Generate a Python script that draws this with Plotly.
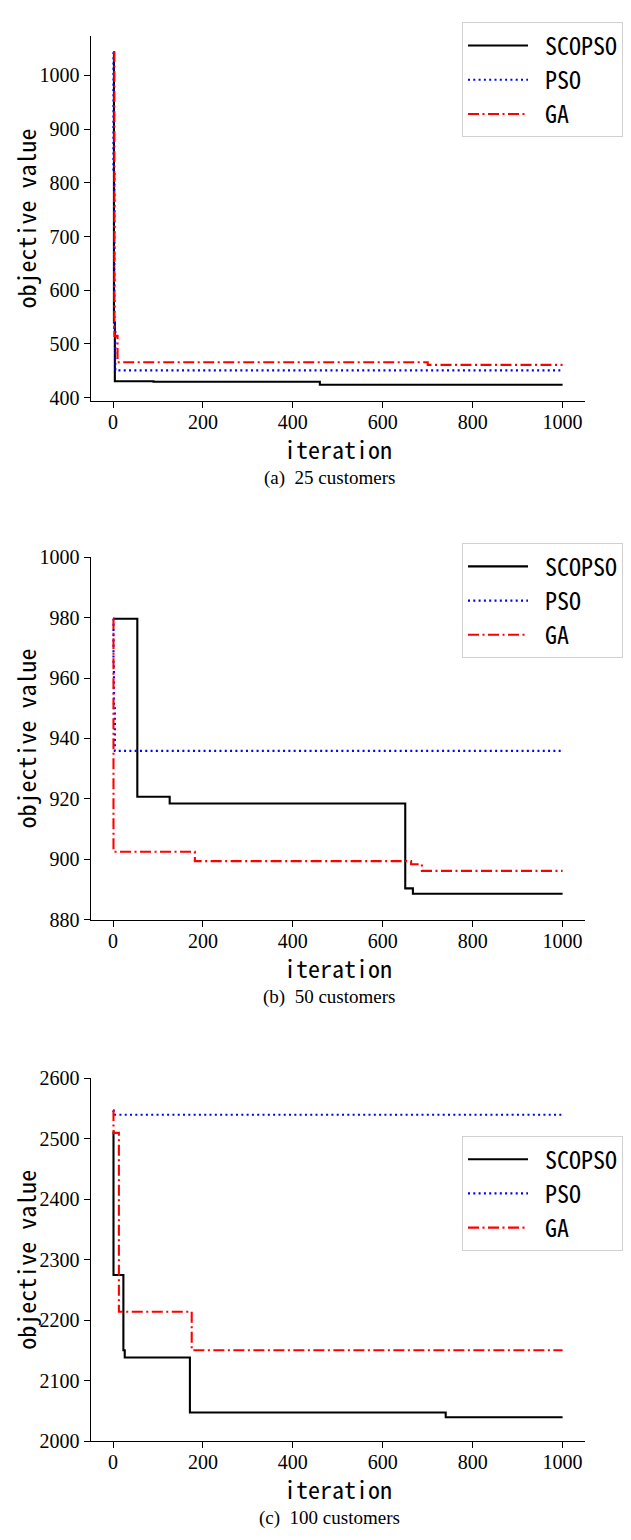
import plotly.graph_objects as go

# ---------------- data ----------------
series_names = ["SCOPSO", "PSO", "GA"]
captions = ["(a)\u00a0 25 customers", "(b)\u00a0 50 customers", "(c)\u00a0 100 customers"]
x_ticks = [0, 200, 400, 600, 800, 1000]

# (a) 25 customers
a_scopso_iter = [0, 2, 4, 90, 460, 1000]
a_scopso_val = [1043, 540, 430.5, 429.5, 424, 424]
a_pso_iter = [0, 1, 3, 5, 1000]
a_pso_val = [1043, 820, 530, 451, 451]
a_ga_iter = [0, 3, 10, 700, 1000]
a_ga_val = [1043, 515, 466, 461, 461]

# (b) 50 customers
b_scopso_iter = [0, 54, 126, 650, 667, 1000]
b_scopso_val = [979.6, 920.7, 918.5, 890.4, 888.6, 888.6]
b_pso_iter = [0, 1, 2, 4, 1000]
b_pso_val = [979.6, 965, 950, 935.9, 935.9]
b_ga_iter = [0, 1, 182, 663, 687, 1000]
b_ga_val = [979.6, 902.5, 899.4, 898.4, 896.2, 896.2]

# (c) 100 customers
c_scopso_iter = [0, 1, 23, 26, 171, 740, 1000]
c_scopso_val = [2512, 2275, 2150.5, 2138.5, 2047.5, 2039.5, 2039.5]
c_pso_iter = [0, 1, 1000]
c_pso_val = [2547, 2540, 2540]
c_ga_iter = [0, 1, 13, 175, 1000]
c_ga_val = [2547, 2510, 2214, 2150.5, 2150.5]

panels = [
    [(a_scopso_iter, a_scopso_val), (a_pso_iter, a_pso_val), (a_ga_iter, a_ga_val)],
    [(b_scopso_iter, b_scopso_val), (b_pso_iter, b_pso_val), (b_ga_iter, b_ga_val)],
    [(c_scopso_iter, c_scopso_val), (c_pso_iter, c_pso_val), (c_ga_iter, c_ga_val)],
]

# ---------------- style / layout ----------------
PAGE_MARGIN = 8                      # default <body> margin of the html page
W, H = 631 - 2 * PAGE_MARGIN, 1540 - 2 * PAGE_MARGIN

def fx(px):   # screen px -> paper x
    return (px - PAGE_MARGIN) / W

def fy(px):   # screen px -> paper y
    return 1 - (px - PAGE_MARGIN) / H

colors = ["#000000", "#0000ff", "#ff0000"]
dashes = ["solid", "2px,3.3px", "11px,3.5px,2px,3.5px"]
widths = [2.1, 2.2, 2.1]

serif = "Liberation Serif, Times New Roman, serif"
mono = "Noto Sans Mono CJK SC, Noto Sans CJK SC, DejaVu Sans Mono, monospace"

x_left_px, x_right_px = 90.7, 586.0
panel_px = [(25, 396), (554, 922), (1083, 1451)]
legend_top_px = [11.5, 540, 1141.5]

fig = go.Figure()
layout = dict(
    width=W, height=H,
    margin=dict(l=0, r=0, t=0, b=0),
    paper_bgcolor="white", plot_bgcolor="white",
    annotations=[],
)

for p, traces in enumerate(panels):
    sfx = "" if p == 0 else str(p + 1)
    leg = "legend" if p == 0 else f"legend{p + 1}"
    for s, (xs, ys) in enumerate(traces):
        fig.add_trace(go.Scatter(
            x=xs, y=ys, mode="lines", name="\u00a0" + series_names[s],
            line=dict(color=colors[s], width=widths[s], dash=dashes[s], shape="hv"),
            xaxis="x" + sfx, yaxis="y" + sfx, legend=leg,
        ))

    top, bot = panel_px[p]
    if p == 0:
        allv = [v for _, ys in traces for v in ys]
        lo, hi = min(allv), max(allv)
        pad = 0.05 * (hi - lo)
        yrange = [lo - pad, hi + pad]
        dtick = 100
    elif p == 1:
        yrange = [880, 1000]
        dtick = 20
    else:
        yrange = [2000, 2600]
        dtick = 100

    common = dict(
        showline=True, linecolor="black", linewidth=1.1, mirror=False,
        ticks="outside", ticklen=6, tickwidth=1.1, tickcolor="black",
        showgrid=False, zeroline=False,
        tickfont=dict(family=serif, size=20, color="black"),
    )
    layout["xaxis" + sfx] = dict(
        common,
        domain=[fx(x_left_px), fx(x_right_px)],
        anchor="y" + sfx,
        range=[-50, 1050],
        tickvals=x_ticks,
        ticklabelstandoff=-3,
    )
    layout["yaxis" + sfx] = dict(
        common,
        domain=[fy(bot), fy(top)],
        anchor="x" + sfx,
        range=yrange,
        dtick=dtick,
        title=dict(text="objective value", font=dict(family=mono, size=24, color="black"), standoff=4),
    )
    layout[leg] = dict(
        x=fx(463), y=fy(legend_top_px[p]), xanchor="left", yanchor="top",
        bgcolor="rgba(255,255,255,0.8)", bordercolor="#d0d0d0", borderwidth=1,
        font=dict(family=mono, size=24, color="black"),
        itemwidth=60, tracegroupgap=0,
    )
    # x-axis title
    layout["annotations"].append(dict(
        text="iteration", xref="paper", yref="paper",
        x=fx((x_left_px + x_right_px) / 2), y=fy(bot + 48), xanchor="center", yanchor="middle",
        showarrow=False, font=dict(family=mono, size=24, color="black"),
    ))
    # sub-figure caption
    layout["annotations"].append(dict(
        text=captions[p], xref="paper", yref="paper",
        x=fx(330), y=fy(bot + 78), xanchor="center", yanchor="middle",
        showarrow=False, font=dict(family=serif, size=19, color="black"),
    ))

fig.update_layout(**layout)
fig.write_html("out.html")
